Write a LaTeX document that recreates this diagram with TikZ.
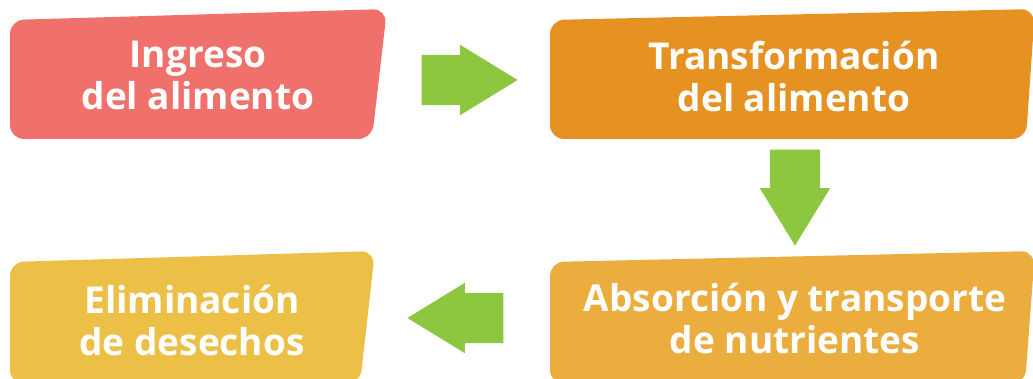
\documentclass[tikz,border=0pt]{standalone}
\usepackage{fontspec}
\setmainfont{Open Sans}
\usetikzlibrary{shapes.arrows}

\definecolor{rojo}{HTML}{F0716B}
\definecolor{naranja}{HTML}{E69223}
\definecolor{amarillo}{HTML}{ECC046}
\definecolor{ocre}{HTML}{EBAD3E}
\definecolor{verde}{HTML}{8DC63F}

\tikzset{
    boxtext/.style={text=white, align=center, anchor=base, inner sep=0pt,
        font=\fontsize{37}{42}\selectfont\bfseries},
    flecha/.style={single arrow, fill=verde, inner xsep=0pt, inner ysep=25pt,
        minimum height=96pt, single arrow head extend=10pt, single arrow tip angle=63}
}

\begin{document}
\begin{tikzpicture}[x=1pt, y=-1pt]
    \clip (0, 0) rectangle (1033, 379);
    \fill [rojo, rounded corners=14pt] (10, 20) -- (387, 9) -- (372, 139) -- (10, 139) -- cycle;
    \fill [naranja, rounded corners=14pt] (550, 20) -- (1035, 9) -- (1026, 139) -- (550, 139) -- cycle;
    \fill [amarillo, rounded corners=14pt] (10, 262) -- (375, 251) -- (360, 384) -- (10, 384) -- cycle;
    \fill [ocre, rounded corners=14pt] (550, 262) -- (1035, 251) -- (1025, 384) -- (550, 384) -- cycle;
    \node [boxtext] (ingreso) at (198, 110) {Ingreso\\del alimento};
    \node [boxtext] (transformacion) at (794, 112) {Transformación\\del alimento};
    \node [boxtext] (absorcion) at (795, 353) {Absorción y transporte\\de nutrientes};
    \node [boxtext] (eliminacion) at (192, 355) {Eliminación\\de desechos};
    \node [flecha] (f1) at (449, 80) {};
    \node [flecha, rotate=-90] (f2) at (795, 177) {};
    \node [flecha, rotate=180] (f3) at (476, 318) {};
\end{tikzpicture}
\end{document}
